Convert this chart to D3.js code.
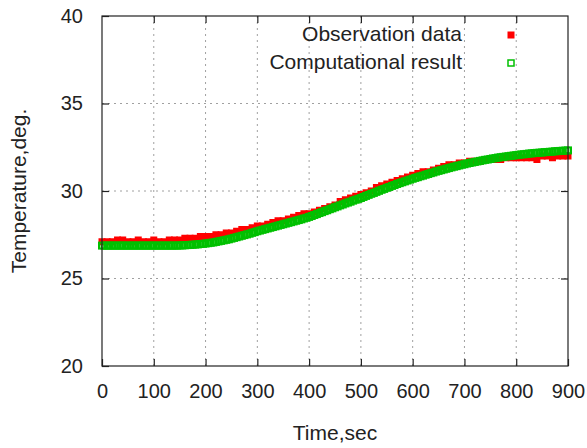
<!DOCTYPE html>
<html>
<head>
<meta charset="utf-8">
<script src="https://cdn.jsdelivr.net/npm/d3@7"></script>
<style>
    body { margin: 0; background: #fff; }
    text { font-family: "Liberation Sans", Arial, sans-serif; fill: #222; }
    .tick text { font-size: 20px; }
    .grid line { stroke: #a0a0a0; stroke-width: 1; stroke-dasharray: 2,4; }
</style>
</head>
<body>
<svg class="tempChart" width="587" height="448"></svg>
<script>
// observed temperature, one reading every 10 sec (0..900)
const obsStep = 10;
const obsTemp = [
    27.1, 27.1, 27.1, 27.2, 27.2, 27.1, 27.1, 27.2, 27.1, 27.1,
    27.2, 27.1, 27.1, 27.2, 27.2, 27.2, 27.3, 27.3, 27.3, 27.4,
    27.4, 27.4, 27.5, 27.5, 27.6, 27.6, 27.7, 27.8, 27.8, 27.9,
    28.0, 28.0, 28.1, 28.2, 28.3, 28.3, 28.4, 28.5, 28.6, 28.7,
    28.7, 28.8, 28.9, 29.0, 29.1, 29.2, 29.4, 29.5, 29.6, 29.7,
    29.8, 29.9, 30.0, 30.2, 30.3, 30.4, 30.5, 30.6, 30.7, 30.8,
    30.9, 31.0, 31.1, 31.1, 31.2, 31.3, 31.4, 31.5, 31.5, 31.6,
    31.6, 31.7, 31.7, 31.7, 31.8, 31.8, 31.8, 31.8, 31.9, 31.9,
    31.9, 31.9, 31.9, 31.9, 31.8, 32.0, 32.0, 31.9, 32.0, 32.0,
    32.0
];

// computed temperature, every 5 sec (0..900)
const calcStep = 5;
const calcTemp = [
    26.88, 26.88, 26.88, 26.88, 26.88, 26.88, 26.88, 26.88, 26.88, 26.88,
    26.88, 26.88, 26.88, 26.88, 26.88, 26.88, 26.88, 26.88, 26.88, 26.88,
    26.88, 26.88, 26.88, 26.88, 26.88, 26.88, 26.88, 26.88, 26.88, 26.88,
    26.89, 26.89, 26.90, 26.91, 26.92, 26.93, 26.94, 26.95, 26.97, 26.98,
    27.00, 27.02, 27.04, 27.06, 27.09, 27.12, 27.15, 27.18, 27.21, 27.24,
    27.28, 27.32, 27.36, 27.40, 27.44, 27.48, 27.52, 27.56, 27.61, 27.65,
    27.70, 27.74, 27.78, 27.82, 27.86, 27.90, 27.94, 27.98, 28.02, 28.06,
    28.10, 28.14, 28.18, 28.22, 28.26, 28.30, 28.34, 28.38, 28.43, 28.47,
    28.52, 28.57, 28.63, 28.68, 28.74, 28.79, 28.85, 28.90, 28.96, 29.01,
    29.07, 29.12, 29.18, 29.23, 29.29, 29.34, 29.39, 29.45, 29.50, 29.55,
    29.60, 29.66, 29.72, 29.78, 29.84, 29.89, 29.95, 30.01, 30.07, 30.12,
    30.18, 30.23, 30.29, 30.34, 30.40, 30.45, 30.50, 30.55, 30.60, 30.65,
    30.70, 30.75, 30.79, 30.84, 30.88, 30.93, 30.97, 31.02, 31.06, 31.11,
    31.15, 31.19, 31.23, 31.27, 31.31, 31.35, 31.39, 31.42, 31.46, 31.50,
    31.53, 31.57, 31.60, 31.63, 31.66, 31.69, 31.72, 31.75, 31.78, 31.80,
    31.83, 31.86, 31.88, 31.91, 31.93, 31.95, 31.97, 31.99, 32.01, 32.03,
    32.05, 32.07, 32.09, 32.10, 32.12, 32.14, 32.15, 32.17, 32.18, 32.19,
    32.20, 32.22, 32.23, 32.24, 32.25, 32.27, 32.28, 32.29, 32.30, 32.31,
    32.32
];

const xTicks = [0, 100, 200, 300, 400, 500, 600, 700, 800, 900];
const yTicks = [20, 25, 30, 35, 40];
const seriesNames = ["Observation data", "Computational result"];

function drawChart()
{
    const margin = {top: 16, left: 102, right: 19, bottom: 82};
    const width = 587 - margin.left - margin.right;
    const height = 448 - margin.top - margin.bottom;

    const svg = d3.select(".tempChart");
    const holder = svg.append("g")
        .attr("transform", `translate(${margin.left},${margin.top})`);

    const xScale = d3.scaleLinear().domain([0, 900]).range([0, width]);
    const yScale = d3.scaleLinear().domain([20, 40]).range([height, 0]);

    // dotted grid
    const grid = holder.append("g").attr("class", "grid");
    grid.selectAll(".vline")
        .data(xTicks.slice(1, -1))
        .enter().append("line")
        .attr("x1", d => xScale(d)).attr("x2", d => xScale(d))
        .attr("y1", 0).attr("y2", height);
    grid.selectAll(".hline")
        .data(yTicks.slice(1, -1))
        .enter().append("line")
        .attr("y1", d => yScale(d)).attr("y2", d => yScale(d))
        .attr("x1", 0).attr("x2", width);

    // observation: filled red squares
    const obs = obsTemp.map((v, i) => ({t: i * obsStep, v}));
    const redSize = 7;
    holder.append("g").selectAll("rect")
        .data(obs)
        .enter().append("rect")
        .attr("x", d => xScale(d.t) - redSize / 2)
        .attr("y", d => yScale(d.v) - redSize / 2)
        .attr("width", redSize)
        .attr("height", redSize)
        .attr("fill", "#ff0000");

    // computation: open green squares
    const calc = calcTemp.map((v, i) => ({t: i * calcStep, v}));
    const greenSize = 6;
    holder.append("g").selectAll("rect")
        .data(calc)
        .enter().append("rect")
        .attr("x", d => xScale(d.t) - greenSize / 2)
        .attr("y", d => yScale(d.v) - greenSize / 2)
        .attr("width", greenSize)
        .attr("height", greenSize)
        .attr("fill", "none")
        .attr("stroke", "#00c000")
        .attr("stroke-width", 2);

    // axes, ticks pointing inwards on all four sides
    const axisStyle = g => {
        g.select(".domain").remove();
        g.selectAll(".tick line").attr("stroke", "#222").attr("stroke-width", 1.2);
    };
    holder.append("g")
        .attr("transform", `translate(0,${height})`)
        .call(d3.axisBottom(xScale).tickValues(xTicks).tickSize(-7).tickPadding(18))
        .call(axisStyle)
        .call(g => g.selectAll(".tick text").attr("fill", "#222"));
    holder.append("g")
        .call(d3.axisLeft(yScale).tickValues(yTicks).tickSize(-7).tickPadding(19))
        .call(axisStyle)
        .call(g => g.selectAll(".tick text").attr("fill", "#222"));
    holder.append("g")
        .call(d3.axisTop(xScale).tickValues(xTicks.slice(1, -1)).tickSize(-7).tickFormat(""))
        .call(axisStyle);
    holder.append("g")
        .attr("transform", `translate(${width},0)`)
        .call(d3.axisRight(yScale).tickValues(yTicks.slice(1, -1)).tickSize(-7).tickFormat(""))
        .call(axisStyle);

    holder.append("rect")
        .attr("width", width).attr("height", height)
        .attr("fill", "none")
        .attr("stroke", "#222")
        .attr("stroke-width", 1.2);

    // axis titles
    holder.append("text")
        .attr("x", width / 2)
        .attr("y", height + 74)
        .attr("text-anchor", "middle")
        .style("font-size", "21px")
        .text("Time,sec");
    holder.append("text")
        .attr("transform", `translate(${26 - margin.left},${height / 2}) rotate(-90)`)
        .attr("text-anchor", "middle")
        .style("font-size", "21px")
        .text("Temperature,deg.");

    // legend
    const legend = holder.append("g");
    legend.append("text")
        .attr("x", 360).attr("y", 25)
        .attr("text-anchor", "end")
        .style("font-size", "21px")
        .text(seriesNames[0]);
    legend.append("rect")
        .attr("x", 409 - redSize / 2).attr("y", 19 - redSize / 2)
        .attr("width", redSize).attr("height", redSize)
        .attr("fill", "#ff0000");
    legend.append("text")
        .attr("x", 360).attr("y", 53)
        .attr("text-anchor", "end")
        .style("font-size", "21px")
        .text(seriesNames[1]);
    legend.append("rect")
        .attr("x", 409 - 3).attr("y", 47 - 3)
        .attr("width", 6).attr("height", 6)
        .attr("fill", "none")
        .attr("stroke", "#00c000")
        .attr("stroke-width", 1.5);
}

drawChart();
</script>
</body>
</html>
